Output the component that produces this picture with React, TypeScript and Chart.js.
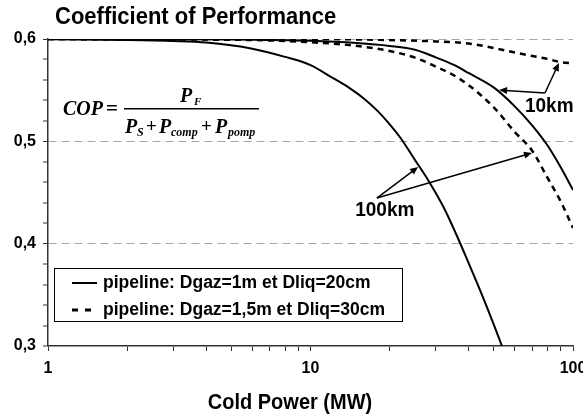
import React, { useEffect, useRef } from 'react';
import { Chart, registerables } from 'chart.js';

Chart.register(...registerables);

const SANS = '"Liberation Sans", Arial, Helvetica, sans-serif';
const SERIF = '"Liberation Serif", "Times New Roman", serif';

// ---- axes / ticks ----
const X_TICKS = [1, 2, 3, 4, 5, 6, 7, 8, 9, 10, 20, 30, 40, 50, 60, 70, 80, 90, 100];
const X_LABELS = [1, 10, 100];
const Y_TICKS = [0.3, 0.32, 0.34, 0.36, 0.38, 0.4, 0.42, 0.44, 0.46, 0.48, 0.5, 0.52, 0.54, 0.56, 0.58, 0.6];
const Y_LABELS = [0.3, 0.4, 0.5, 0.6];
const Y_GRID = [0.4, 0.5, 0.6];

// ---- series: pipeline Dgaz=1m / Dliq=20cm (solid) ----
const P_SOLID_10KM = [1, 5, 10, 15, 20, 25, 30, 35, 40, 50, 60, 70, 80, 90, 100];
const COP_SOLID_10KM = [0.6, 0.5995, 0.5982, 0.596, 0.5932, 0.5895, 0.5821, 0.5749, 0.5668, 0.5525, 0.5342, 0.5154, 0.4959, 0.4742, 0.4525];

const P_SOLID_100KM = [1, 2, 3, 4, 6, 8, 10, 12, 14, 16, 18, 20, 22, 25, 28, 32, 36, 40, 45, 50, 53.6];
const COP_SOLID_100KM = [0.5998, 0.599, 0.598, 0.5965, 0.5905, 0.5825, 0.5745, 0.5628, 0.5525, 0.5417, 0.5298, 0.5169, 0.5035, 0.4818, 0.4625, 0.4365, 0.4085, 0.3812, 0.35, 0.3205, 0.3];

// ---- series: pipeline Dgaz=1,5m / Dliq=30cm (dashed) ----
const P_DASHED_10KM = [1, 10, 20, 30, 40, 50, 60, 70, 80, 90, 100];
const COP_DASHED_10KM = [0.6, 0.6, 0.599, 0.5976, 0.5956, 0.5912, 0.5868, 0.5834, 0.5805, 0.5773, 0.5761];

const P_DASHED_100KM = [1, 3, 6, 10, 14, 20, 25, 30, 35, 40, 50, 60, 70, 80, 90, 100];
const COP_DASHED_100KM = [0.6, 0.5995, 0.599, 0.5968, 0.5941, 0.5883, 0.5818, 0.5731, 0.5648, 0.555, 0.533, 0.5091, 0.4906, 0.4642, 0.4407, 0.4153];

// ---- texts ----
const TITLE = 'Coefficient of Performance';
const X_TITLE = 'Cold Power (MW)';
const LEGEND_LABELS = ['pipeline: Dgaz=1m et Dliq=20cm', 'pipeline: Dgaz=1,5m et Dliq=30cm'];
const LABEL_10KM = '10km';
const LABEL_100KM = '100km';

// annotation anchors in data coordinates [P, COP]
const ANNOT_10KM_TEXT = [65.6, 0.5345];
const ANNOT_10KM_FROM = [78.2, 0.5472];
const ANNOT_10KM_TO = [[52.3, 0.5502], [88.4, 0.5766]];
const ANNOT_100KM_TEXT = [14.8, 0.4329];
const ANNOT_100KM_FROM = [17.9, 0.4446];
const ANNOT_100KM_TO = [[25.7, 0.4749], [69.8, 0.4886]];

const mk = (xs: number[], ys: number[]) => xs.map((x, i) => ({ x, y: ys[i] }));
const near = (a: number, b: number) => Math.abs(a - b) < 1e-6;

function drawText(ctx: CanvasRenderingContext2D, s: string, x: number, y: number, font: string,
  align: CanvasTextAlign, baseline: CanvasTextBaseline, sy = 1) {
  ctx.save();
  ctx.translate(x, y);
  ctx.scale(1, sy);
  ctx.font = font;
  ctx.textAlign = align;
  ctx.textBaseline = baseline;
  ctx.fillText(s, 0, 0);
  ctx.restore();
}

function arrow(ctx: CanvasRenderingContext2D, x1: number, y1: number, x2: number, y2: number) {
  const a = Math.atan2(y2 - y1, x2 - x1);
  const hl = 8, hw = 3.5;
  ctx.beginPath();
  ctx.moveTo(x1, y1);
  ctx.lineTo(x2 - Math.cos(a) * hl * 0.8, y2 - Math.sin(a) * hl * 0.8);
  ctx.stroke();
  ctx.beginPath();
  ctx.moveTo(x2, y2);
  ctx.lineTo(x2 - Math.cos(a) * hl + Math.sin(a) * hw, y2 - Math.sin(a) * hl - Math.cos(a) * hw);
  ctx.lineTo(x2 - Math.cos(a) * hl - Math.sin(a) * hw, y2 - Math.sin(a) * hl + Math.cos(a) * hw);
  ctx.closePath();
  ctx.fill();
}

const overlay = {
  id: 'overlay',
  afterDraw(chart: any) {
    const ctx: CanvasRenderingContext2D = chart.ctx;
    const xs = chart.scales.x;
    const ys = chart.scales.y;
    const px = (p: number[]) => [xs.getPixelForValue(p[0]), ys.getPixelForValue(p[1])];
    ctx.save();
    ctx.fillStyle = '#000';
    ctx.strokeStyle = '#000';

    // titles
    drawText(ctx, TITLE, 55, 24, `bold 22px ${SANS}`, 'left', 'alphabetic', 1.08);
    drawText(ctx, X_TITLE, 290, 409, `bold 20px ${SANS}`, 'center', 'alphabetic', 1.1);

    // formula
    const fBI = (s: number) => `italic bold ${s}px ${SERIF}`;
    const fB = (s: number) => `bold ${s}px ${SERIF}`;
    drawText(ctx, 'COP', 63, 115, fBI(20), 'left', 'alphabetic', 1.05);
    drawText(ctx, '=', 106, 115, fB(21), 'left', 'alphabetic');
    ctx.fillRect(124, 108, 135, 1.5);
    drawText(ctx, 'P', 180, 102, fBI(20), 'left', 'alphabetic', 1.05);
    drawText(ctx, 'F', 194, 105, fBI(11), 'left', 'alphabetic');
    drawText(ctx, 'P', 125, 133, fBI(20), 'left', 'alphabetic', 1.05);
    drawText(ctx, 'S', 137, 136, fBI(12), 'left', 'alphabetic');
    drawText(ctx, '+', 146, 132, fB(19), 'left', 'alphabetic');
    drawText(ctx, 'P', 159, 133, fBI(20), 'left', 'alphabetic', 1.05);
    drawText(ctx, 'comp', 171, 136, fBI(12), 'left', 'alphabetic');
    drawText(ctx, '+', 201, 132, fB(19), 'left', 'alphabetic');
    drawText(ctx, 'P', 215, 133, fBI(20), 'left', 'alphabetic', 1.05);
    drawText(ctx, 'pomp', 228, 136, fBI(12), 'left', 'alphabetic');

    // legend
    ctx.lineWidth = 1;
    ctx.strokeStyle = '#000';
    ctx.strokeRect(54.5, 268.5, 348, 53);
    ctx.lineWidth = 2;
    ctx.beginPath();
    ctx.moveTo(72, 283);
    ctx.lineTo(97, 283);
    ctx.stroke();
    ctx.lineWidth = 3;
    ctx.setLineDash([6, 7]);
    ctx.beginPath();
    ctx.moveTo(72, 310);
    ctx.lineTo(92, 310);
    ctx.stroke();
    ctx.setLineDash([]);
    drawText(ctx, LEGEND_LABELS[0], 103, 283, `bold 17.5px ${SANS}`, 'left', 'middle');
    drawText(ctx, LEGEND_LABELS[1], 103, 310, `bold 17.5px ${SANS}`, 'left', 'middle');

    // annotations
    ctx.lineWidth = 1.5;
    const t10 = px(ANNOT_10KM_TEXT);
    drawText(ctx, LABEL_10KM, t10[0], t10[1], `bold 19px ${SANS}`, 'left', 'middle', 1.08);
    const f10 = px(ANNOT_10KM_FROM);
    ANNOT_10KM_TO.forEach((p) => { const t = px(p); arrow(ctx, f10[0], f10[1], t[0], t[1]); });
    const t100 = px(ANNOT_100KM_TEXT);
    drawText(ctx, LABEL_100KM, t100[0], t100[1], `bold 19px ${SANS}`, 'left', 'middle', 1.08);
    const f100 = px(ANNOT_100KM_FROM);
    ANNOT_100KM_TO.forEach((p) => { const t = px(p); arrow(ctx, f100[0], f100[1], t[0], t[1]); });

    ctx.restore();
  },
};

export default function App() {
  const ref = useRef<HTMLCanvasElement | null>(null);

  useEffect(() => {
    if (!ref.current) return;
    const tickFont = { family: SANS, size: 16, weight: 'bold' as const };
    const solid = { borderColor: '#000', borderWidth: 2, pointRadius: 0, cubicInterpolationMode: 'monotone' as const, fill: false };
    const dashed = { ...solid, borderWidth: 2.5, borderDash: [6, 5] };
    const chart = new Chart(ref.current, {
      type: 'line',
      data: {
        datasets: [
          { label: LEGEND_LABELS[0] + ' 10km', data: mk(P_SOLID_10KM, COP_SOLID_10KM), ...solid },
          { label: LEGEND_LABELS[0] + ' 100km', data: mk(P_SOLID_100KM, COP_SOLID_100KM), ...solid },
          { label: LEGEND_LABELS[1] + ' 10km', data: mk(P_DASHED_10KM, COP_DASHED_10KM), ...dashed },
          { label: LEGEND_LABELS[1] + ' 100km', data: mk(P_DASHED_100KM, COP_DASHED_100KM), ...dashed },
        ],
      },
      options: {
        responsive: false,
        animation: false,
        devicePixelRatio: 1,
        layout: { padding: { top: 39, right: 10, left: 0, bottom: 0 } },
        plugins: {
          legend: { display: false },
          title: { display: false },
          tooltip: { enabled: false },
        },
        elements: { point: { radius: 0 } },
        scales: {
          x: {
            type: 'logarithmic',
            min: 1,
            max: 100,
            position: 'bottom',
            afterBuildTicks: (s: any) => { s.ticks = X_TICKS.map((v) => ({ value: v })); },
            afterFit: (s: any) => { s.height = 71; s.paddingLeft = 0; s.paddingRight = 0; },
            grid: { display: true, drawOnChartArea: false, drawTicks: true, tickLength: 5, tickColor: '#333', tickWidth: 1 },
            border: { display: true, color: '#333', width: 1.5 },
            ticks: {
              autoSkip: false, maxRotation: 0, minRotation: 0, padding: 8, color: '#000', font: tickFont,
              callback: (v: any) => (X_LABELS.some((l) => near(l, Number(v))) ? String(Number(v)) : ''),
            },
          },
          y: {
            type: 'linear',
            min: 0.3,
            max: 0.6,
            afterBuildTicks: (s: any) => { s.ticks = Y_TICKS.map((v) => ({ value: v })); },
            afterFit: (s: any) => { s.width = 48; },
            grid: {
              drawOnChartArea: true,
              color: '#a6a6a6',
              lineWidth: (c: any) => (c.tick && Y_GRID.some((g) => near(g, c.tick.value)) ? 1 : 0),
              drawTicks: true, tickLength: 5, tickColor: '#333', tickWidth: 1,
            },
            border: { display: true, color: '#333', width: 1.5, dash: [8, 5] },
            ticks: {
              autoSkip: false,
              padding: 7, color: '#000', font: tickFont,
              callback: (v: any) => {
                const n = Number(v);
                return Y_LABELS.some((l) => near(l, n)) ? n.toFixed(1).replace('.', ',') : '';
              },
            },
          },
        },
      },
      plugins: [overlay],
    } as any);
    return () => chart.destroy();
  }, []);

  return (
    <div style={{ position: 'absolute', left: 0, top: 0, width: 583, height: 417, background: '#fff' }}>
      <canvas ref={ref} width={583} height={417} style={{ display: 'block' }} />
    </div>
  );
}
